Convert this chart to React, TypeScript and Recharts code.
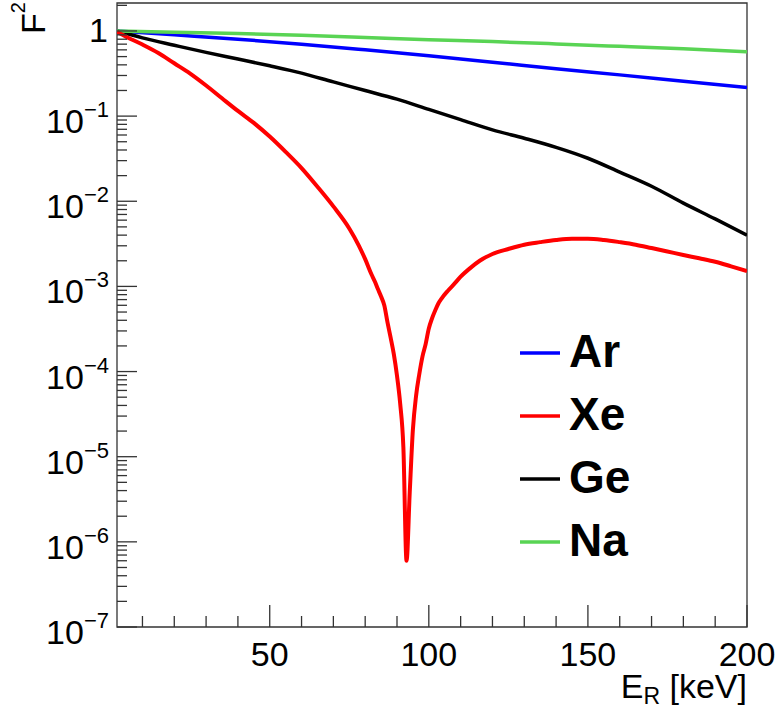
import { Legend, Line, LineChart, ReferenceArea, XAxis, YAxis } from "recharts";

const FONT = '"Liberation Sans", Arial, Helvetica, sans-serif';
const AXIS = "#333";

// recoil energy E_R (keV) and F^2
const arEnergy = [2, 20, 40, 60, 80, 100, 120, 140, 160, 180, 200];
const arF2 = [1, 0.9, 0.8, 0.7, 0.6, 0.51, 0.43, 0.36, 0.305, 0.257, 0.217];

const naEnergy = [2, 20, 40, 60, 80, 100, 120, 140, 160, 180, 200];
const naF2 = [1, 0.966, 0.933, 0.89, 0.84, 0.79, 0.75, 0.705, 0.66, 0.617, 0.571];

const geEnergy = [2, 10, 20, 30, 40, 50, 60, 70, 80, 90, 100, 110, 120, 130, 140, 150, 160, 170, 180, 190, 200];
const geF2 = [
  1, 0.83, 0.68, 0.56, 0.468, 0.39, 0.32, 0.252, 0.2, 0.158, 0.12, 0.091, 0.069, 0.055, 0.043, 0.032, 0.022,
  0.015, 0.0095, 0.0062, 0.004,
];

const xeEnergy = [
  2, 5, 10, 15, 20, 25, 30, 35, 40, 45, 50, 55, 60, 65, 70, 75, 78, 80, 82, 83, 84, 85, 86, 87, 88, 89, 90, 91,
  92, 93, 94, 95, 96, 97, 98, 99, 100, 101, 102, 103, 104, 106, 108, 110, 113, 116, 120, 125, 130, 135, 140,
  145, 150, 155, 160, 165, 170, 175, 180, 185, 190, 195, 200,
];
const xeF2 = [
  0.98, 0.851, 0.692, 0.55, 0.417, 0.316, 0.229, 0.162, 0.115, 0.0832, 0.0575, 0.038, 0.0245, 0.0148, 0.0087,
  0.00479, 0.00302, 0.00209, 0.00138, 0.00115, 9.3e-4, 7.6e-4, 6.0e-4, 3.8e-4, 2.5e-4, 1.6e-4, 8.9e-5, 4.2e-5,
  1.3e-5, 6.0e-7, 3.8e-6, 2.1e-5, 5.2e-5, 9.3e-5, 1.5e-4, 2.1e-4, 3.2e-4, 4.2e-4, 5.2e-4, 6.3e-4, 7.2e-4,
  8.9e-4, 1.07e-3, 1.3e-3, 1.64e-3, 2.0e-3, 2.4e-3, 2.75e-3, 3.09e-3, 3.31e-3, 3.51e-3, 3.63e-3, 3.63e-3,
  3.51e-3, 3.31e-3, 3.09e-3, 2.82e-3, 2.57e-3, 2.34e-3, 2.14e-3, 1.95e-3, 1.72e-3, 1.51e-3,
];

const xTicks = [10, 20, 30, 40, 50, 60, 70, 80, 90, 100, 110, 120, 130, 140, 150, 160, 170, 180, 190, 200];
const yDecades = [-7, -6, -5, -4, -3, -2, -1, 0];
const yMultipliers = [1, 2, 3, 4, 5, 6, 7, 8, 9];
const yTicks = yDecades.flatMap((d) =>
  yMultipliers.map((m) => m * Math.pow(10, d)).filter((v) => v < 2.13)
);

const legendItems = [
  { name: "Ar", color: "#0000ff" },
  { name: "Xe", color: "#ff0000" },
  { name: "Ge", color: "#000000" },
  { name: "Na", color: "#59d454" },
];

const toRows = (energy: number[], f2: number[]) => energy.map((e, i) => ({ e, f2: f2[i] }));

function XTick({ x, y, payload }: any) {
  const v = payload.value;
  const major = v % 50 === 0;
  return (
    <g>
      <line x1={x} x2={x} y1={y} y2={y - (major ? 22 : 11)} stroke={AXIS} strokeWidth={1.3} />
      {major && (
        <text x={x} y={y + 39} textAnchor="middle" fontSize={34} fontFamily={FONT} fill="#000">
          {v}
        </text>
      )}
    </g>
  );
}

function YTick({ x, y, payload }: any) {
  const v = payload.value;
  const lg = Math.log10(v);
  const exp = Math.round(lg);
  const major = Math.abs(lg - exp) < 1e-6;
  return (
    <g>
      <line x1={x} x2={x + (major ? 20 : 10)} y1={y} y2={y} stroke={AXIS} strokeWidth={1.3} />
      {major &&
        (exp === 0 ? (
          <text x={x - 9} y={y + 11} textAnchor="end" fontSize={34} fontFamily={FONT} fill="#000">
            1
          </text>
        ) : (
          <text x={x - 8} y={y + 17} textAnchor="end" fontSize={34} fontFamily={FONT} fill="#000">
            10
            <tspan dy={-16} fontSize={22}>
              {"\u2212" + -exp}
            </tspan>
          </text>
        ))}
    </g>
  );
}

function XTitle({ viewBox }: any) {
  const x = viewBox ? viewBox.x + viewBox.width : 747;
  const y = viewBox ? viewBox.y + 71 : 698;
  return (
    <text x={x} y={y} textAnchor="end" fontSize={34} fontFamily={FONT} fill="#000" style={{ whiteSpace: "pre" }}>
      E
      <tspan dy={6} fontSize={23}>
        R
      </tspan>
      <tspan dy={-6}>{" [keV]"}</tspan>
    </text>
  );
}

function YTitle({ viewBox }: any) {
  const x = viewBox ? viewBox.x + 45 : 45;
  const y = viewBox ? viewBox.y - 1 : 2;
  return (
    <text transform={`translate(${x},${y}) rotate(-90)`} textAnchor="end" fontSize={34} fontFamily={FONT} fill="#000">
      F
      <tspan dy={-20} fontSize={20}>
        2
      </tspan>
    </text>
  );
}

function LegendBox() {
  return (
    <svg width={230} height={250}>
      {legendItems.map((item, i) => {
        const y = 33 + i * 63;
        return (
          <g key={item.name}>
            <line x1={10} x2={50} y1={y} y2={y} stroke={item.color} strokeWidth={3.5} />
            <text x={59} y={y + 14} fontSize={46} fontWeight="bold" fontFamily={FONT} fill="#000">
              {item.name}
            </text>
          </g>
        );
      })}
    </svg>
  );
}

export default function App() {
  return (
    <div style={{ position: "absolute", left: 0, top: 0, width: 779, height: 708, background: "#fff" }}>
      <LineChart width={779} height={708} margin={{ top: 3, right: 32, bottom: 0, left: 0 }}>
        <XAxis
          xAxisId="b"
          type="number"
          dataKey="e"
          domain={[2, 200]}
          allowDataOverflow
          ticks={xTicks}
          interval={0}
          height={81}
          tickSize={0}
          tickMargin={0}
          tickLine={false}
          axisLine={false}
          tick={<XTick />}
          label={<XTitle />}
        />
        <YAxis
          yAxisId="l"
          scale="log"
          domain={[1e-7, 2.13]}
          allowDataOverflow
          ticks={yTicks}
          interval={0}
          width={117}
          tickSize={0}
          tickMargin={0}
          tickLine={false}
          axisLine={false}
          tick={<YTick />}
          label={<YTitle />}
        />
        <ReferenceArea
          xAxisId="b"
          yAxisId="l"
          x1={2}
          x2={200}
          y1={1e-7}
          y2={2.13}
          fill="none"
          stroke={AXIS}
          strokeWidth={1.3}
          ifOverflow="visible"
        />
        <Line xAxisId="b" yAxisId="l" type="monotone" data={toRows(arEnergy, arF2)} dataKey="f2" name="Ar" stroke="#0000ff" strokeWidth={3.5} dot={false} isAnimationActive={false} />
        <Line xAxisId="b" yAxisId="l" type="monotone" data={toRows(geEnergy, geF2)} dataKey="f2" name="Ge" stroke="#000000" strokeWidth={3.5} dot={false} isAnimationActive={false} />
        <Line xAxisId="b" yAxisId="l" type="monotone" data={toRows(naEnergy, naF2)} dataKey="f2" name="Na" stroke="#59d454" strokeWidth={3.5} dot={false} isAnimationActive={false} />
        <Line xAxisId="b" yAxisId="l" type="monotone" data={toRows(xeEnergy, xeF2)} dataKey="f2" name="Xe" stroke="#ff0000" strokeWidth={4} dot={false} isAnimationActive={false} />
        <Legend
          verticalAlign="middle"
          align="center"
          layout="horizontal"
          wrapperStyle={{ left: 510, top: 320, width: 230, height: 250 }}
          content={() => <LegendBox />}
        />
      </LineChart>
    </div>
  );
}
